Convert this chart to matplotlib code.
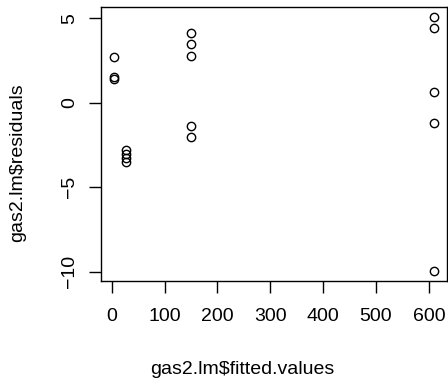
import matplotlib
matplotlib.use("Agg")
import matplotlib.pyplot as plt

# gas2.lm fitted values vs residuals
fitted = [3.5, 3.5, 3.5,
          27.7, 27.7, 27.7, 27.7,
          150, 150, 150, 150, 150,
          610, 610, 610, 610, 610]
residuals = [2.73, 1.53, 1.41,
             -2.8, -3.05, -3.25, -3.5,
             4.1, 3.45, 2.75, -1.4, -2.05,
             5.05, 4.45, 0.64, -1.21, -9.94]

xticks = [0, 100, 200, 300, 400, 500, 600]
yticks = [-10, -5, 0, 5]

plt.rcParams["font.family"] = ["Liberation Sans", "DejaVu Sans"]
plt.rcParams["font.size"] = 14

fig = plt.figure(figsize=(4.48, 3.8), dpi=100)
ax = fig.add_axes([100.7 / 448, 1 - 280.7 / 380, 346.3 / 448, 273.4 / 380])

ax.plot(fitted, residuals, linestyle="none", marker="o", markersize=6,
        markerfacecolor="none", markeredgecolor="black", markeredgewidth=1.0)

ax.margins(x=0.04, y=0.04)
ax.set_xticks(xticks)
ax.set_yticks(yticks)
ax.set_yticklabels([str(v).replace("-", "\u2212") for v in yticks],
                   rotation=90, va="center", ha="center")

for s in ax.spines.values():
    s.set_linewidth(1.0)
    s.set_color("black")

ax.tick_params(axis="both", direction="out", length=8.6, width=1.0,
               colors="black", labelsize=14)
ax.tick_params(axis="x", pad=11)
ax.tick_params(axis="y", pad=13.7)

# axis titles sit a little left / low of the box centre in the original
ax.set_xlabel("gas2.lm$fitted.values")
ax.xaxis.set_label_coords(0.408, (280.7 - 370) / 273.4)
ax.xaxis.label.set_va("center")
ax.set_ylabel("gas2.lm$residuals")
ax.yaxis.set_label_coords((18 - 100.7) / 346.3, 0.43)
ax.yaxis.label.set_va("center")

fig.savefig("out.png", dpi=100)
